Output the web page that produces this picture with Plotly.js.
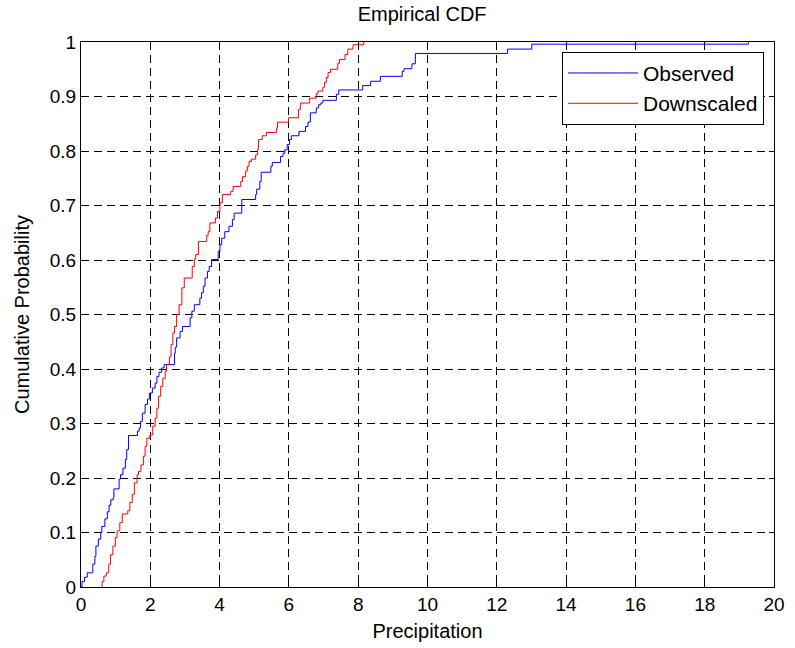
<!DOCTYPE html>
<html>
<head>
<meta charset="utf-8">
<script src="https://cdn.plot.ly/plotly-3.0.1.min.js"></script>
<style>
  html, body { margin: 0; padding: 0; background: #fff; }
  #chart { width: 795px; height: 648px; }
</style>
</head>
<body>
<div id="chart"></div>
<script>
// Observed empirical CDF: precipitation step locations and cumulative probability after each step
const observedX = [0.00, 0.03, 0.10, 0.18, 0.34, 0.40, 0.43, 0.50, 0.57, 0.60, 0.69, 0.76, 0.81, 0.86, 0.93, 0.95, 1.10, 1.14, 1.21, 1.28, 1.32, 1.37, 1.63, 1.68, 1.72, 1.77, 1.85, 1.92, 1.98, 2.06, 2.14, 2.19, 2.25, 2.33, 2.40, 2.70, 2.72, 2.76, 2.86, 2.93, 3.15, 3.20, 3.27, 3.43, 3.48, 3.53, 3.58, 3.65, 3.70, 3.77, 3.96, 4.01, 4.06, 4.15, 4.27, 4.37, 4.42, 4.64, 5.04, 5.07, 5.16, 5.20, 5.48, 5.52, 5.76, 5.83, 5.88, 5.95, 6.02, 6.07, 6.29, 6.48, 6.55, 6.62, 6.79, 6.86, 6.92, 6.98, 7.37, 7.44, 8.13, 8.36, 8.64, 9.27, 9.32, 9.55, 9.65, 12.31, 13.01, 19.26];
const observedY = [0.000, 0.010, 0.018, 0.026, 0.042, 0.056, 0.075, 0.088, 0.100, 0.111, 0.125, 0.138, 0.150, 0.160, 0.164, 0.180, 0.198, 0.206, 0.218, 0.234, 0.252, 0.278, 0.286, 0.292, 0.304, 0.319, 0.335, 0.345, 0.356, 0.365, 0.374, 0.386, 0.394, 0.402, 0.408, 0.429, 0.440, 0.457, 0.469, 0.478, 0.494, 0.506, 0.518, 0.530, 0.540, 0.552, 0.567, 0.579, 0.588, 0.601, 0.616, 0.628, 0.640, 0.652, 0.662, 0.674, 0.686, 0.711, 0.720, 0.730, 0.744, 0.761, 0.772, 0.779, 0.790, 0.796, 0.802, 0.812, 0.821, 0.828, 0.836, 0.845, 0.853, 0.870, 0.879, 0.885, 0.888, 0.893, 0.904, 0.912, 0.920, 0.928, 0.937, 0.946, 0.951, 0.960, 0.979, 0.987, 0.996, 1.000];

// Downscaled empirical CDF
const downscaledX = [0.61, 0.61, 0.66, 0.73, 0.80, 0.85, 0.92, 0.99, 1.04, 1.12, 1.19, 1.35, 1.41, 1.48, 1.54, 1.62, 1.66, 1.73, 1.80, 1.85, 1.90, 1.99, 2.07, 2.14, 2.19, 2.24, 2.30, 2.36, 2.43, 2.47, 2.55, 2.60, 2.65, 2.70, 2.76, 2.83, 2.91, 2.98, 3.21, 3.27, 3.31, 3.39, 3.63, 3.67, 3.72, 3.88, 3.94, 4.01, 4.08, 4.32, 4.39, 4.61, 4.66, 4.75, 4.80, 4.85, 4.92, 5.04, 5.10, 5.12, 5.23, 5.35, 5.64, 5.67, 5.99, 6.28, 6.33, 6.60, 6.79, 6.84, 6.98, 7.03, 7.08, 7.13, 7.20, 7.41, 7.46, 7.62, 7.70, 7.85, 8.16];
const downscaledY = [0.000, 0.010, 0.020, 0.026, 0.042, 0.059, 0.075, 0.091, 0.103, 0.118, 0.134, 0.140, 0.155, 0.170, 0.191, 0.206, 0.212, 0.224, 0.240, 0.258, 0.273, 0.279, 0.295, 0.310, 0.328, 0.350, 0.368, 0.383, 0.396, 0.408, 0.422, 0.445, 0.466, 0.478, 0.500, 0.518, 0.549, 0.567, 0.588, 0.602, 0.610, 0.634, 0.645, 0.652, 0.668, 0.677, 0.689, 0.705, 0.720, 0.726, 0.735, 0.744, 0.753, 0.763, 0.772, 0.781, 0.785, 0.793, 0.803, 0.821, 0.828, 0.834, 0.842, 0.853, 0.861, 0.876, 0.888, 0.897, 0.905, 0.910, 0.917, 0.926, 0.935, 0.944, 0.950, 0.961, 0.968, 0.977, 0.987, 0.995, 1.000];

const seriesNames = ["Observed", "Downscaled"];
const xTicks = [0, 2, 4, 6, 8, 10, 12, 14, 16, 18, 20];
const yTicks = [0, 0.1, 0.2, 0.3, 0.4, 0.5, 0.6, 0.7, 0.8, 0.9, 1];
const yTickText = ["0", "0.1", "0.2", "0.3", "0.4", "0.5", "0.6", "0.7", "0.8", "0.9", "1"];

const FONT = "Liberation Sans, Arial, Helvetica, sans-serif";

const traces = [
  { x: observedX, y: observedY, name: seriesNames[0], type: "scatter", mode: "lines",
    line: { color: "#0000FF", width: 1, shape: "hv" } },
  { x: downscaledX, y: downscaledY, name: seriesNames[1], type: "scatter", mode: "lines",
    line: { color: "#FF0000", width: 1, shape: "hv" } }
];

const axisCommon = {
  showline: true, linecolor: "#000", linewidth: 1, mirror: "ticks",
  ticks: "inside", ticklen: 5, tickcolor: "#000", tickwidth: 1,
  showgrid: true, gridcolor: "#000", gridwidth: 1, griddash: "8px,5px",
  zeroline: false, fixedrange: true,
  tickfont: { family: FONT, size: 19, color: "#000" }
};

const layout = {
  width: 795, height: 648,
  paper_bgcolor: "#fff", plot_bgcolor: "#fff",
  margin: { l: 81, r: 21, t: 42, b: 61, pad: 0 },
  title: { text: "Empirical CDF", font: { family: FONT, size: 20, color: "#000" },
           x: 0.531, xanchor: "center", y: 0.978, yanchor: "middle" },
  xaxis: Object.assign({}, axisCommon, {
    range: [0, 20], tickvals: xTicks, ticktext: xTicks.map(String),
    title: { text: "Precipitation", font: { family: FONT, size: 20, color: "#000" }, standoff: 10 }
  }),
  yaxis: Object.assign({}, axisCommon, {
    range: [0, 1], tickvals: yTicks, ticktext: yTickText,
    title: { text: "Cumulative Probability", font: { family: FONT, size: 20, color: "#000" }, standoff: 14 }
  }),
  showlegend: true,
  legend: {
    x: 0.9856, xanchor: "right", y: 0.982, yanchor: "top",
    bgcolor: "#fff", bordercolor: "#000", borderwidth: 1,
    font: { family: FONT, size: 21, color: "#000" },
    itemwidth: 70, tracegroupgap: 0
  },
  hovermode: false
};

Plotly.newPlot("chart", traces, layout, { displayModeBar: false, staticPlot: true });
</script>
</body>
</html>
